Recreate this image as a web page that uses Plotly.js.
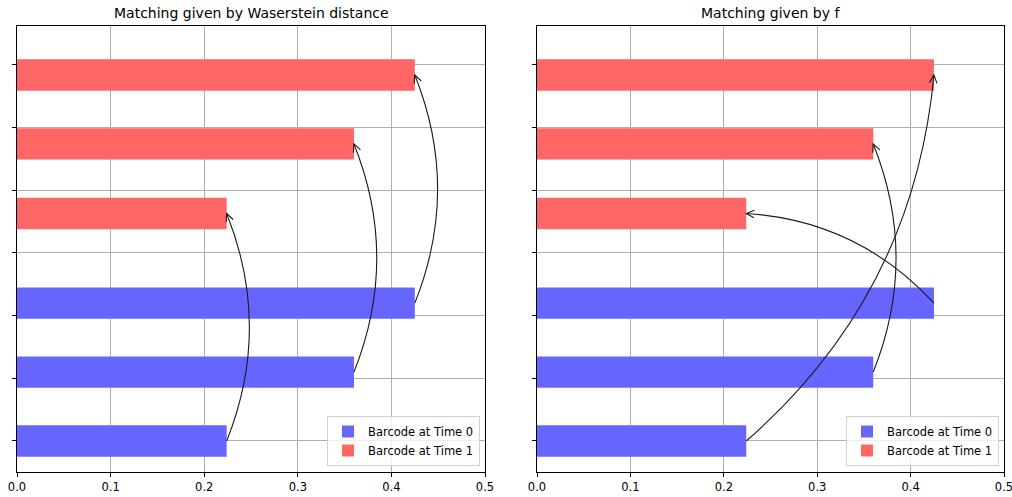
<!DOCTYPE html>
<html><head><meta charset="utf-8">
<script src="https://cdn.plot.ly/plotly-3.0.1.min.js"></script>
<style>html,body{margin:0;padding:0;background:#fff}</style>
</head><body><div id="chart" style="width:1012px;height:497px"></div>
<script>
// ---- data ----
const barLengths0 = [0.224, 0.36, 0.425];   // Barcode at Time 0 (blue)
const barLengths1 = [0.224, 0.36, 0.425];   // Barcode at Time 1 (red)
const yTime0 = [0, 1.1, 2.2];
const yTime1 = [3.63, 4.74, 5.84];
const matchWasserstein = [0, 1, 2];          // blue i -> red match[i]
const matchF = [2, 1, 0];
const titles = ["Matching given by Waserstein distance", "Matching given by f"];
const legendNames = ["Barcode at Time 0", "Barcode at Time 1"];
const yTicks = [0, 1, 2, 3, 4, 5, 6];
const xTicks = [0, 0.1, 0.2, 0.3, 0.4, 0.5];

// ---- geometry ----
const W = 1012, H = 497;
const M = {l: 17, r: 8, t: 26, b: 25};
const plotW = W - M.l - M.r, plotH = H - M.t - M.b;
const xDomains = [[0, 468 / plotW], [520 / plotW, 1]];
const xRange = [0, 0.5], yRange = [-0.495, 6.622];
const FONT = "DejaVu Sans";

function toPx(k, x, y) {
  const d = xDomains[k];
  return {
    x: M.l + d[0] * plotW + (x - xRange[0]) / (xRange[1] - xRange[0]) * (d[1] - d[0]) * plotW,
    y: M.t + (yRange[1] - y) / (yRange[1] - yRange[0]) * plotH
  };
}
function toData(k, p) {
  const d = xDomains[k];
  return {
    x: xRange[0] + (p.x - M.l - d[0] * plotW) / ((d[1] - d[0]) * plotW) * (xRange[1] - xRange[0]),
    y: yRange[1] - (p.y - M.t) / plotH * (yRange[1] - yRange[0])
  };
}

const shapes = [];
function addArrows(k, match) {
  const xr = k === 0 ? 'x' : 'x2', yr = k === 0 ? 'y' : 'y2';
  const f = 0.2;
  match.forEach((j, i) => {
    const P0 = toPx(k, barLengths0[i], yTime0[i]);
    const P2 = toPx(k, barLengths1[j], yTime1[j]);
    const C = {x: (P0.x + P2.x) / 2 - f * (P2.y - P0.y), y: (P0.y + P2.y) / 2 + f * (P2.x - P0.x)};
    const d0 = toData(k, P0), dc = toData(k, C), d2 = toData(k, P2);
    shapes.push({type: 'path', xref: xr, yref: yr, layer: 'above',
      path: `M ${d0.x},${d0.y} Q ${dc.x},${dc.y} ${d2.x},${d2.y}`,
      line: {color: '#1a1a1a', width: 1.1}});
    let ux = P2.x - C.x, uy = P2.y - C.y;
    const len = Math.hypot(ux, uy); ux /= len; uy /= len;
    const nx = -uy, ny = ux, L = 8, hw = 3.8;
    const A = toData(k, {x: P2.x - L * ux + hw * nx, y: P2.y - L * uy + hw * ny});
    const B = toData(k, {x: P2.x - L * ux - hw * nx, y: P2.y - L * uy - hw * ny});
    shapes.push({type: 'path', xref: xr, yref: yr, layer: 'above',
      path: `M ${A.x},${A.y} L ${d2.x},${d2.y} L ${B.x},${B.y}`,
      line: {color: '#1a1a1a', width: 1.1}});
  });
}
addArrows(0, matchWasserstein);
addArrows(1, matchF);

const traces = [];
[0, 1].forEach(k => {
  const xa = k === 0 ? 'x' : 'x2', ya = k === 0 ? 'y' : 'y2', lg = k === 0 ? 'legend' : 'legend2';
  traces.push({type: 'bar', orientation: 'h', x: barLengths0, y: yTime0, width: 0.5,
    marker: {color: '#6666ff', line: {width: 0}}, name: legendNames[0],
    xaxis: xa, yaxis: ya, legend: lg, hoverinfo: 'none'});
  traces.push({type: 'bar', orientation: 'h', x: barLengths1, y: yTime1, width: 0.5,
    marker: {color: '#ff6666', line: {width: 0}}, name: legendNames[1],
    xaxis: xa, yaxis: ya, legend: lg, hoverinfo: 'none'});
});

function xAxis(k) {
  return {domain: xDomains[k], range: xRange, anchor: k === 0 ? 'y' : 'y2',
    tickvals: xTicks, tickformat: '.1f', ticks: 'outside', ticklen: 4, tickwidth: 1, tickcolor: '#000',
    ticklabeloverflow: 'allow',
    showgrid: true, gridcolor: '#b0b0b0', gridwidth: 1, zeroline: false,
    showline: true, linecolor: '#000', linewidth: 1, mirror: true, layer: 'above traces',
    tickfont: {family: FONT, size: 11.5, color: '#000'}, fixedrange: true};
}
function yAxis(k) {
  return {domain: [0, 1], range: yRange, anchor: k === 0 ? 'x' : 'x2',
    tickvals: yTicks, showticklabels: false, ticks: 'outside', ticklen: 4, tickwidth: 1, tickcolor: '#000',
    showgrid: true, gridcolor: '#b0b0b0', gridwidth: 1, zeroline: false,
    showline: true, linecolor: '#000', linewidth: 1, mirror: true, layer: 'above traces', fixedrange: true};
}
function legendCfg(k) {
  return {x: xDomains[k][1] - 5 / plotW, xanchor: 'right', y: 6 / plotH, yanchor: 'bottom',
    bgcolor: 'rgba(255,255,255,0.8)', bordercolor: '#d0d0d0', borderwidth: 1,
    font: {family: FONT, size: 11.5, color: '#000'}, itemclick: false, itemdoubleclick: false};
}

const layout = {
  width: W, height: H, margin: M, paper_bgcolor: '#fff', plot_bgcolor: '#fff',
  barmode: 'overlay', showlegend: true,
  font: {family: FONT, size: 11, color: '#000'},
  xaxis: xAxis(0), xaxis2: xAxis(1), yaxis: yAxis(0), yaxis2: yAxis(1),
  legend: legendCfg(0), legend2: legendCfg(1),
  shapes: shapes,
  annotations: titles.map((t, k) => ({text: t, xref: 'paper', yref: 'paper',
    x: (xDomains[k][0] + xDomains[k][1]) / 2, y: 1 + 13 / plotH, xanchor: 'center', yanchor: 'middle',
    showarrow: false, font: {family: FONT, size: 14, color: '#000'}}))
};
Plotly.newPlot('chart', traces, layout, {staticPlot: true, displayModeBar: false});
</script></body></html>
